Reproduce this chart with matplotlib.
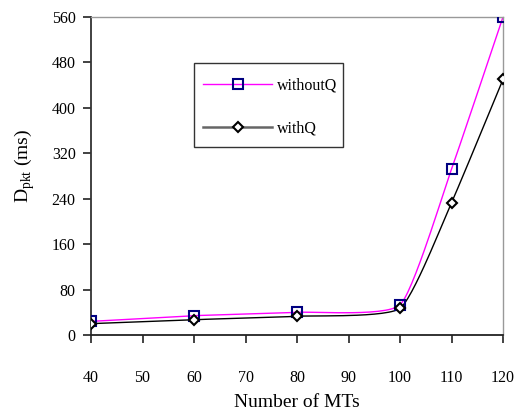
import numpy as np
import matplotlib
matplotlib.use("Agg")
import matplotlib.pyplot as plt
from matplotlib.lines import Line2D
from matplotlib.patches import Rectangle

mts = [40, 60, 80, 100, 110, 120]
without_q = [24, 34, 40, 53, 292, 560]
with_q = [20, 27, 33, 47, 233, 450]
xticks = [40, 50, 60, 70, 80, 90, 100, 110, 120]
yticks = [0, 80, 160, 240, 320, 400, 480, 560]

W, H = 514, 415


def smooth(x, y, n=30):
    # Hermite / Catmull-Rom style smoothing (like a spreadsheet "smoothed line")
    x = np.asarray(x, float); y = np.asarray(y, float)
    px = np.concatenate([[2 * x[0] - x[1]], x, [2 * x[-1] - x[-2]]])
    py = np.concatenate([[2 * y[0] - y[1]], y, [2 * y[-1] - y[-2]]])
    xs, ys = [], []
    t = np.linspace(0, 1, n)
    for i in range(1, len(px) - 2):
        p0, p1, p2, p3 = [np.array([px[j], py[j]]) for j in range(i - 1, i + 3)]
        m1 = (p2 - p0) / 2 * 0.5
        m2 = (p3 - p1) / 2 * 0.5
        h00 = 2 * t**3 - 3 * t**2 + 1
        h10 = t**3 - 2 * t**2 + t
        h01 = -2 * t**3 + 3 * t**2
        h11 = t**3 - t**2
        pts = (np.outer(h00, p1) + np.outer(h10, m1) + np.outer(h01, p2) + np.outer(h11, m2))
        xs.extend(pts[:, 0]); ys.extend(pts[:, 1])
    return np.array(xs), np.array(ys)


plt.rcParams['font.family'] = ['Liberation Serif', 'DejaVu Serif']
fig = plt.figure(figsize=(W / 100, H / 100), dpi=100)
ax = fig.add_axes([91 / W, 1 - 335 / H, (503 - 91) / W, (335 - 17) / H])

sx, sy = smooth(mts, without_q)
ax.plot(sx, sy, color='#FF00FF', lw=1.0, zorder=2)
ax.plot(mts, without_q, ls='none', marker='s', ms=7, mfc='none', mec='#000080', mew=1.5, zorder=3)
sx, sy = smooth(mts, with_q)
ax.plot(sx, sy, color='black', lw=1.0, zorder=2)
ax.plot(mts, with_q, ls='none', marker='D', ms=5, mfc='white', mec='black', mew=1.5, zorder=3)

ax.set_xlim(40, 120)
ax.set_ylim(0, 560)
ax.set_xticks(xticks)
ax.set_yticks(yticks)
ax.tick_params(axis='both', direction='out', length=6, width=1.2, labelsize=11.5, color='#222222')
ax.tick_params(axis='x', pad=19)
ax.tick_params(axis='y', pad=5)
for s in ['top', 'right']:
    ax.spines[s].set_color('#999999')
    ax.spines[s].set_linewidth(1.0)
ax.spines['left'].set_color('#333333')
ax.spines['left'].set_linewidth(1.3)
ax.spines['bottom'].set_color('#222222')
ax.spines['bottom'].set_linewidth(1.3)

ax.set_xlabel('Number of MTs', fontsize=14, labelpad=6)
ax.set_ylabel(r'D$_{\mathregular{pkt}}$ (ms)', fontsize=14)
ax.yaxis.set_label_coords(-(91 - 37) / 412, (335 - 166) / 318)

h1 = Line2D([], [], color='#FF00FF', lw=1.0, marker='s', ms=7, mfc='none', mec='#000080', mew=1.5)
h2 = Line2D([], [], color='#666666', lw=1.8, marker='D', ms=5, mfc='white', mec='black', mew=1.5)
leg = fig.legend([h1, h2], ['withoutQ', 'withQ'], loc='upper left',
                 bbox_to_anchor=(203 / W, 1 - 78 / H),
                 frameon=False, fontsize=11.5,
                 handlelength=4.35, labelspacing=1.68, borderpad=0.0, handletextpad=0.3,
                 borderaxespad=0)
fig.add_artist(Rectangle((194 / W, 1 - 147 / H), (343 - 194) / W, (147 - 63) / H,
                         transform=fig.transFigure, fill=False, edgecolor='#333333', lw=1.0))

fig.savefig('out.png', dpi=100)
